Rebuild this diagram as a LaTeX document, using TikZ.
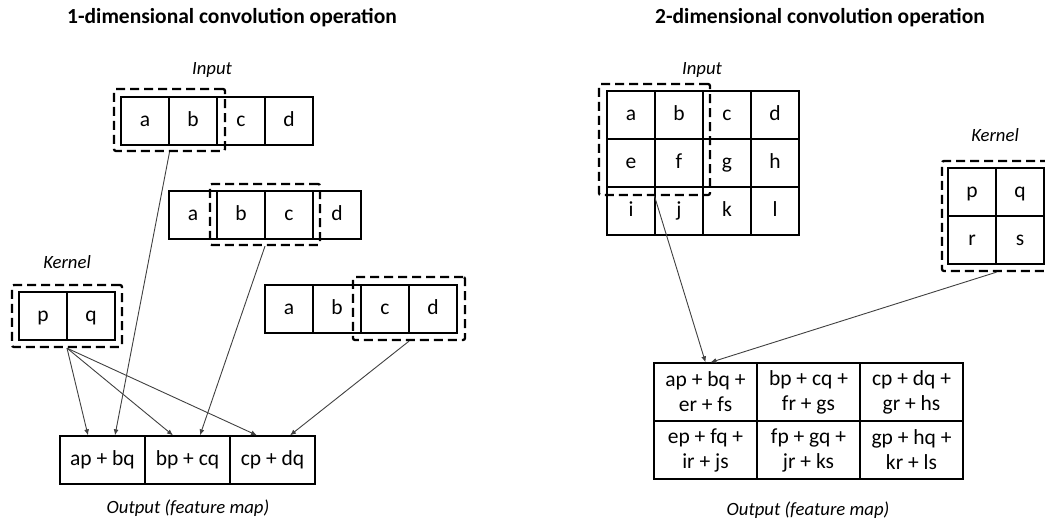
\documentclass[tikz,border=0pt]{standalone}
\usepackage{fontspec}
\setmainfont{Carlito}
\usetikzlibrary{arrows.meta}

\begin{document}
\begin{tikzpicture}
   [x=1pt, y=-1pt,
   cell/.style={rectangle, draw=black, line width=1.3pt, minimum size=48pt, inner sep=0pt, text height=15pt, text depth=4pt, font=\fontsize{21.5}{24}\selectfont},
   sumcell/.style={rectangle, draw=black, line width=1.3pt, minimum width=85pt, minimum height=48pt, inner sep=0pt, text height=15pt, text depth=4pt, font=\fontsize{21.5}{24}\selectfont},
   sumcell2/.style={rectangle, draw=black, line width=1.3pt, minimum width=103pt, minimum height=58pt, inner sep=0pt, align=center, font=\fontsize{21.5}{25}\selectfont},
   window/.style={rectangle, draw=black, line width=2.3pt, dash pattern=on 9pt off 5pt, rounded corners=2pt, inner sep=0pt},
   title/.style={font=\fontsize{21.5}{24}\selectfont\bfseries},
   caption/.style={font=\fontsize{18.7}{22}\selectfont\itshape},
   link/.style={draw=black!75, line width=0.9pt, -{Latex[length=6pt,width=5pt]}},
   ]
 \useasboundingbox (0,0) rectangle (1045,523);

 % 1-d convolution
 \node at (232,18) [title] (t1) {1-dimensional convolution operation};
 \node at (212,70) [caption] (in1) {Input};
 \node at (145,121) [cell] (r1a) {a};
 \node at (193,121) [cell] (r1b) {b};
 \node at (241,121) [cell] (r1c) {c};
 \node at (289,121) [cell] (r1d) {d};
 \node at (193,215) [cell] (r2a) {a};
 \node at (241,215) [cell] (r2b) {b};
 \node at (289,215) [cell] (r2c) {c};
 \node at (337,215) [cell] (r2d) {d};
 \node at (289,309) [cell] (r3a) {a};
 \node at (337,309) [cell] (r3b) {b};
 \node at (385,309) [cell] (r3c) {c};
 \node at (433,309) [cell] (r3d) {d};
 \node at (169.5,120) [window, minimum width=111pt, minimum height=62pt] (w1) {};
 \node at (265,214.5) [window, minimum width=110pt, minimum height=61pt] (w2) {};
 \node at (409,308.5) [window, minimum width=112pt, minimum height=63pt] (w3) {};

 \node at (67,262) [caption] (k1) {Kernel};
 \node at (43,316) [cell] (k1p) {p};
 \node at (91,316) [cell] (k1q) {q};
 \node at (67,316) [window, minimum width=110pt, minimum height=62pt] (kw1) {};

 \node at (102.5,460) [sumcell] (o1) {ap + bq};
 \node at (187.5,460) [sumcell] (o2) {bp + cq};
 \node at (272.5,460) [sumcell] (o3) {cp + dq};
 \node at (188,508) [caption] (out1) {Output (feature map)};

 \draw[link] (kw1.south) -- ([xshift=-14.5pt]o1.north);
 \draw[link] (kw1.south) -- ([xshift=-14.5pt]o2.north);
 \draw[link] (kw1.south) -- ([xshift=-15.5pt]o3.north);
 \draw[link] (w1.south) -- ([xshift=12.5pt]o1.north);
 \draw[link] (w2.south) -- ([xshift=12.5pt]o2.north);
 \draw[link] (w3.south) -- ([xshift=17.5pt]o3.north);

 % 2-d convolution
 \node at (820,18) [title] (t2) {2-dimensional convolution operation};
 \node at (702,70) [caption] (in2) {Input};
 \node at (631,115) [cell] (ga) {a};
 \node at (679,115) [cell] (gb) {b};
 \node at (727,115) [cell] (gc) {c};
 \node at (775,115) [cell] (gd) {d};
 \node at (631,163) [cell] (ge) {e};
 \node at (679,163) [cell] (gf) {f};
 \node at (727,163) [cell] (gg) {g};
 \node at (775,163) [cell] (gh) {h};
 \node at (631,211) [cell] (gi) {i};
 \node at (679,211) [cell] (gj) {j};
 \node at (727,211) [cell] (gk) {k};
 \node at (775,211) [cell] (gl) {l};
 \node at (654.5,139.5) [window, minimum width=111pt, minimum height=111pt] (w4) {};

 \node at (995,135) [caption] (k2) {Kernel};
 \node at (972,192) [cell] (k2p) {p};
 \node at (1020,192) [cell] (k2q) {q};
 \node at (972,240) [cell] (k2r) {r};
 \node at (1020,240) [cell] (k2s) {s};
 \node at (996.5,216) [window, minimum width=109pt, minimum height=110pt] (kw2) {};

 \node at (705.5,392) [sumcell2] (oo1) {ap + bq +\\ er + fs};
 \node at (808.5,392) [sumcell2] (oo2) {bp + cq +\\ fr + gs};
 \node at (911.5,392) [sumcell2] (oo3) {cp + dq +\\ gr + hs};
 \node at (705.5,450) [sumcell2] (oo4) {ep + fq +\\ ir + js};
 \node at (808.5,450) [sumcell2] (oo5) {fp + gq +\\ jr + ks};
 \node at (911.5,450) [sumcell2] (oo6) {gp + hq +\\ kr + ls};
 \node at (808,510) [caption] (out2) {Output (feature map)};

 \draw[link] (w4.south) -- (oo1.north);
 \draw[link] (kw2.south) -- ([xshift=5pt]oo1.north);
\end{tikzpicture}
\end{document}
